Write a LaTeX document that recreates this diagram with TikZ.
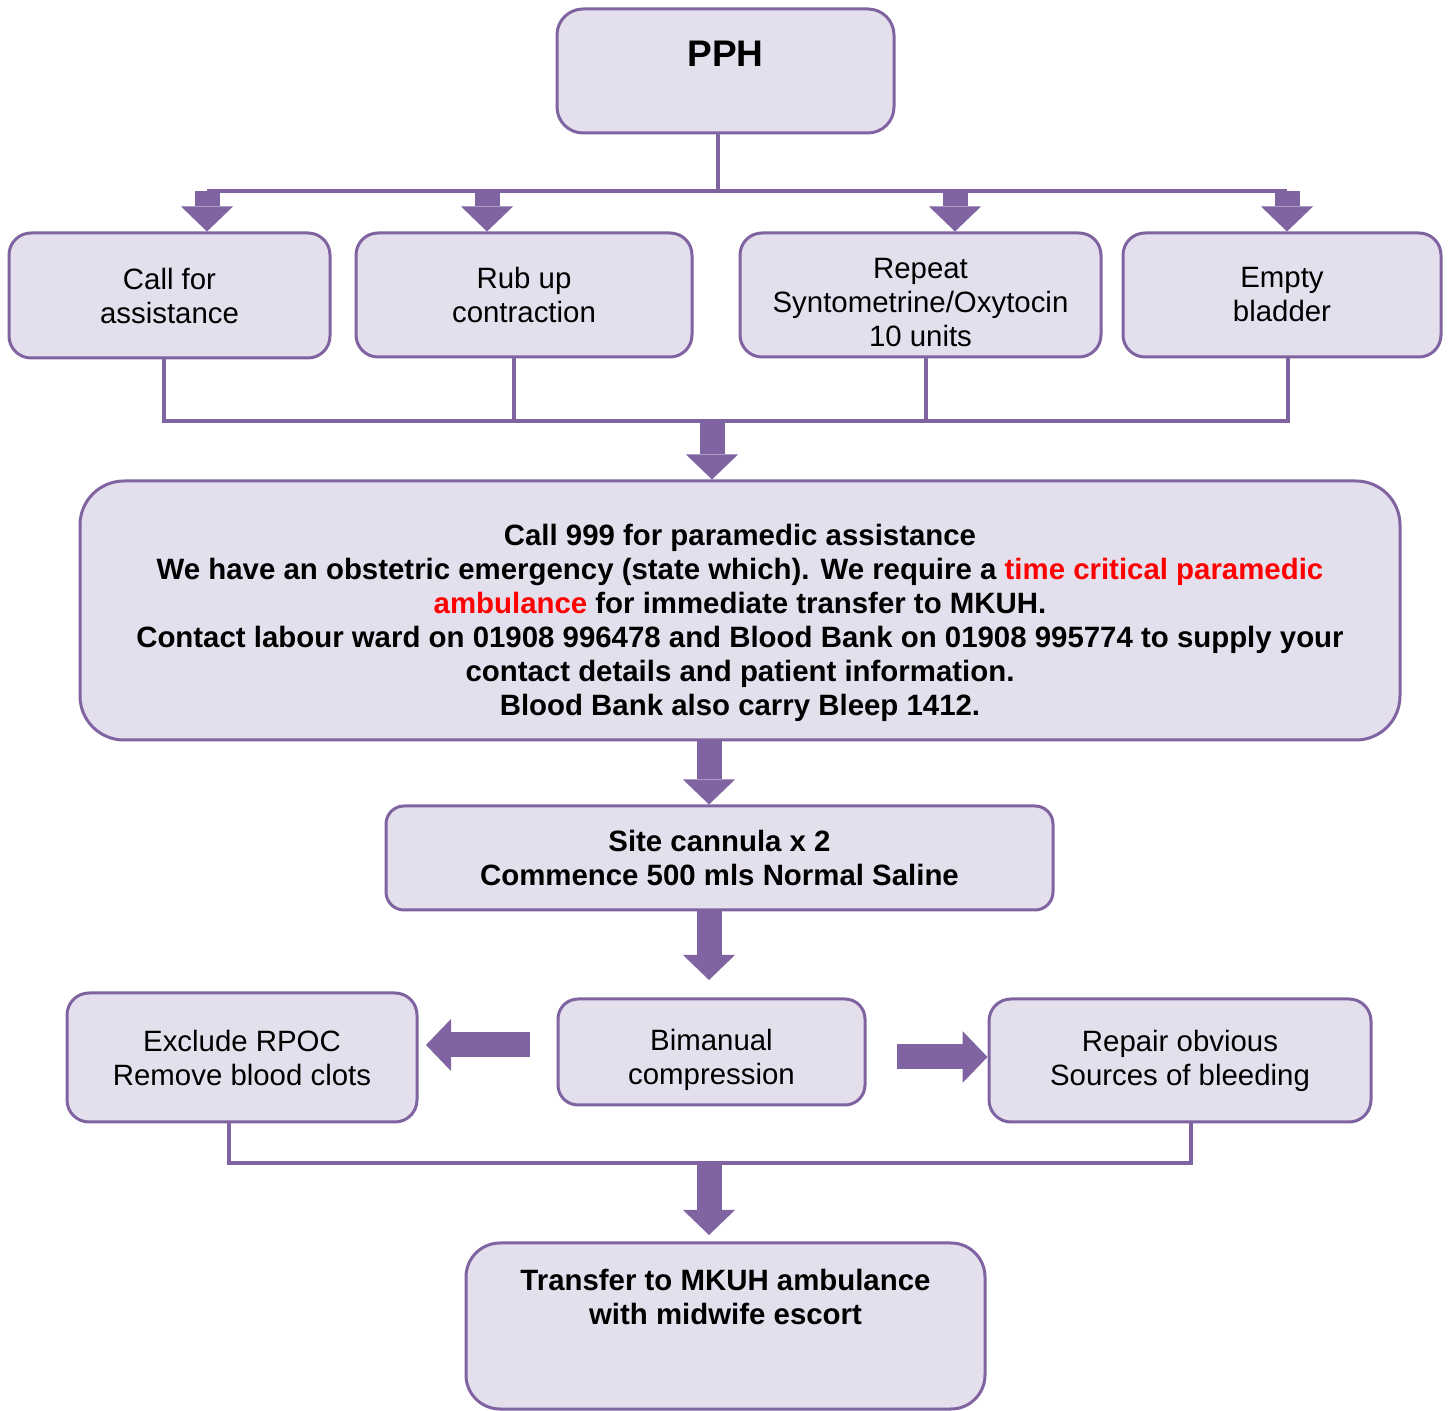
\documentclass[tikz,border=0pt]{standalone}
\usepackage{fontspec}
\setmainfont{Liberation Sans}
\usepackage{tikz}
\usetikzlibrary{arrows.meta}
\definecolor{boxlilac}{HTML}{E4DFEC}
\definecolor{boxpurple}{HTML}{8064A2}
\definecolor{alertred}{HTML}{FF0000}

\tikzset{
	pbox/.style={draw=boxpurple, fill=boxlilac, line width=1.5pt, rounded corners=11pt,
		align=center, inner sep=0pt, font=\fontsize{14.7pt}{17pt}\selectfont},
	link/.style={draw=boxpurple, line width=2pt},
	fat/.style={draw=boxpurple, line width=12.5pt,
		-{Triangle[width=26pt,length=12.5pt,line width=0pt]}},
}

\begin{document}
\begin{tikzpicture}[x=0.5pt, y=-0.5pt]

% frame %{{{2

	\useasboundingbox (0,0) rectangle (1448,1411);

% boxes %{{{2

	\node[pbox, minimum width=168.5pt, minimum height=62pt, rounded corners=13pt,
		text depth=17pt, font=\fontsize{18.5pt}{22pt}\selectfont\bfseries]
		(pph) at (725.5,71) {PPH};

	\node[pbox, minimum width=160.5pt, minimum height=62.5pt] (call) at (169.5,295.5)
		{Call for\\assistance};
	\node[pbox, minimum width=168pt, minimum height=62pt] (rub) at (524,295)
		{Rub up\\contraction};
	\node[pbox, minimum width=180.5pt, minimum height=62pt] (repeat) at (920.5,295)
		{\rule{0pt}{17.6pt}Repeat\\Syntometrine/Oxytocin\\10 units};
	\node[pbox, minimum width=159pt, minimum height=62pt] (bladder) at (1282,295)
		{Empty\\bladder};

	\node[pbox, minimum width=660pt, minimum height=129.5pt, rounded corners=22pt,
		font=\fontsize{14.7pt}{17pt}\selectfont\bfseries] (paramedic) at (740,610.5)
		{\rule{0pt}{22.6pt}Call 999 for paramedic assistance\\
		We have an obstetric emergency (state which). We require a {\color{alertred}time critical paramedic}\\
		{\color{alertred}ambulance} for immediate transfer to MKUH.\\
		Contact labour ward on 01908 996478 and Blood Bank on 01908 995774 to supply your\\
		contact details and patient information.\\
		Blood Bank also carry Bleep 1412.};

	\node[pbox, minimum width=333.5pt, minimum height=52pt, rounded corners=9pt,
		font=\fontsize{14.7pt}{17pt}\selectfont\bfseries] (cannula) at (719.5,858)
		{Site cannula x 2\\Commence 500 mls Normal Saline};

	\node[pbox, minimum width=175pt, minimum height=64.5pt] (rpoc) at (242,1057.5)
		{Exclude RPOC\\Remove blood clots};
	\node[pbox, minimum width=153.5pt, minimum height=53pt, rounded corners=10pt]
		(bimanual) at (711.5,1052) {\rule{0pt}{18.6pt}Bimanual\\compression};
	\node[pbox, minimum width=191pt, minimum height=61.5pt] (repair) at (1180,1060.5)
		{Repair obvious\\Sources of bleeding};

	\node[pbox, minimum width=259.5pt, minimum height=83pt, rounded corners=17pt,
		text depth=29pt, font=\fontsize{14.7pt}{17pt}\selectfont\bfseries]
		(transfer) at (725.5,1326) {Transfer to MKUH ambulance\\with midwife escort};

% coordinates %{{{2

	\coordinate (bus) at (718,191);
	\coordinate (a1) at (207,191);
	\coordinate (a2) at (487,191);
	\coordinate (a3) at (955,191);
	\coordinate (a4) at (1287,191);

	\coordinate (b1) at (164,421);
	\coordinate (b2) at (514,421);
	\coordinate (b3) at (926,421);
	\coordinate (b4) at (1288,421);
	\coordinate (m1) at (712,421);

	\coordinate (m2) at (709,740);
	\coordinate (m3) at (709,910);
	\coordinate (m3e) at (709,980);

	\coordinate (l1) at (530,1045);
	\coordinate (l2) at (426,1045);
	\coordinate (r1) at (897,1057);

	\coordinate (c1) at (229,1163);
	\coordinate (c2) at (1191,1163);
	\coordinate (c3) at (709,1163);
	\coordinate (c3e) at (709,1235);

% top fan out %{{{2

	\draw[link] (pph.south -| bus) -- (bus);
	\draw[link] (a1) -- (a4);
	\draw[fat] (a1) -- (a1 |- call.north);
	\draw[fat] (a2) -- (a2 |- rub.north);
	\draw[fat] (a3) -- (a3 |- repeat.north);
	\draw[fat] (a4) -- (a4 |- bladder.north);

% fan in %{{{2

	\draw[link] (b1 |- call.south) -- (b1) -- (b4) -- (b4 |- bladder.south);
	\draw[link] (b2 |- rub.south) -- (b2);
	\draw[link] (b3 |- repeat.south) -- (b3);
	\draw[fat] (m1) -- (m1 |- paramedic.north);

% middle chain %{{{2

	\draw[fat] (m2) -- (m2 |- cannula.north);
	\draw[fat] (m3) -- (m3e);

	\draw[fat] (l1) -- (l2);
	\draw[fat] (r1) -- (r1 -| repair.west);

% bottom %{{{2

	\draw[link] (c1 |- rpoc.south) -- (c1) -- (c2) -- (c2 |- repair.south);
	\draw[fat] (c3) -- (c3e);

\end{tikzpicture}
\end{document}
